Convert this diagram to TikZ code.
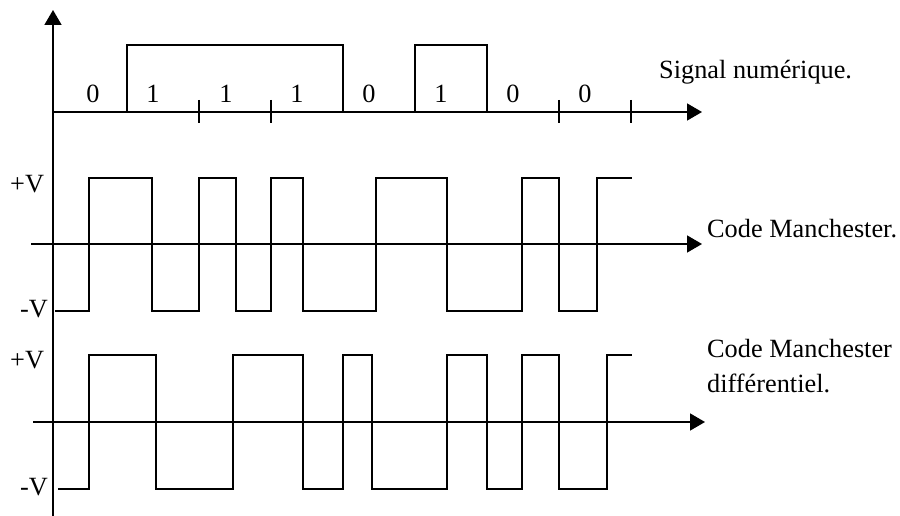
\documentclass[tikz,border=0pt]{standalone}
\usepackage{fontspec}
\setmainfont{Liberation Serif}
\usetikzlibrary{arrows.meta}
\begin{document}
\begin{tikzpicture}[x=1pt,y=-1pt,
  wave/.style={line width=1.7pt, line join=miter},
  axis/.style={line width=1.7pt, -{Triangle[length=15pt,width=17pt]}},
  tick/.style={line width=1.7pt},
  txt/.style={inner sep=0pt, font=\fontsize{26.3}{35}\selectfont},
  lbl/.style={txt, anchor=base west, align=left},
  bitlbl/.style={txt, anchor=base}]
\useasboundingbox (0,0) rectangle (900,516);

% vertical axis
\coordinate (vbot) at (53,516);
\coordinate (vtop) at (53,10);
\draw[axis] (vbot) -- (vtop);

% time axes
\coordinate (a1s) at (53,112);  \coordinate (a1e) at (702,112);
\coordinate (a2s) at (31,244);  \coordinate (a2e) at (702,244);
\coordinate (a3s) at (33,422);  \coordinate (a3e) at (705,422);
\draw[axis] (a1s) -- (a1e);
\draw[axis] (a2s) -- (a2e);
\draw[axis] (a3s) -- (a3e);

% digital signal 0 1 1 1 0 1 0 0
\draw[wave] (127,112) |- (343,45) -- (343,112);
\draw[wave] (415,112) |- (487,45) -- (487,112);
\foreach \x in {199,271,559,631}
  \draw[tick] (\x,100) -- (\x,123);
\foreach \x/\b [count=\i] in {93/0,153/1,226/1,297/1,369/0,441/1,513/0,585/0}
  \node[bitlbl] (bit\i) at (\x,103) {\b};

% Manchester code
\draw[wave] (55,311) -| (89,178) -| (152,311) -| (199,178) -| (236,311)
  -| (271,178) -| (303,311) -| (376,178) -| (447,311) -| (522,178)
  -| (559,311) -| (597,178) -- (632,178);

% differential Manchester code
\draw[wave] (58,489) -| (89,355) -| (156,489) -| (233,355) -| (303,489)
  -| (343,355) -| (372,489) -| (447,355) -| (487,489) -| (522,355)
  -| (559,489) -| (607,355) -- (632,355);

% level labels
\node[lbl] (pv1) at (10,193) {+V};
\node[lbl] (mv1) at (20,317) {-V};
\node[lbl] (pv2) at (10,368) {+V};
\node[lbl] (mv2) at (20,495) {-V};

% signal names
\node[lbl] (sig) at (659,79) {Signal numérique.};
\node[lbl] (man) at (707,237) {Code Manchester.};
\node[lbl] (dman) at (707,392) {Code Manchester\\différentiel.};
\end{tikzpicture}
\end{document}
